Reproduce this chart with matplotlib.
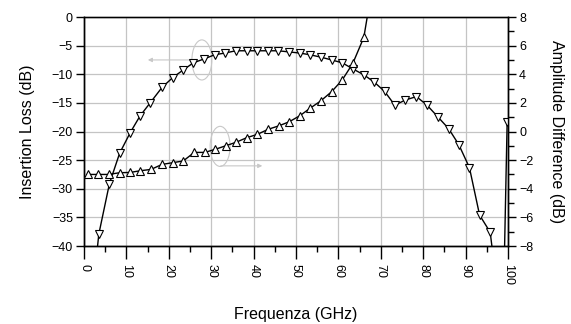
import matplotlib
matplotlib.use("Agg")
import matplotlib.pyplot as plt
from matplotlib.patches import Ellipse
from matplotlib.ticker import MultipleLocator

plt.rcParams['font.family'] = ['Liberation Sans', 'DejaVu Sans']

# Insertion loss (left axis, down triangles)
il_freq = [3.2, 3.5, 6.0, 8.4, 10.9, 13.2, 15.6, 18.4, 20.9, 23.4, 25.8, 28.4, 30.8, 33.2,
           35.8, 38.4, 40.9, 43.3, 45.8, 48.4, 50.9, 53.3, 55.8, 58.4, 60.9, 63.5,
           66.0, 68.5, 70.9, 73.3, 75.8, 78.4, 80.9, 83.4, 86.0, 88.4, 90.9, 93.3,
           95.8, 96.2]
il_db = [-40.0, -37.9, -29.1, -23.8, -20.2, -17.3, -15.0, -12.3, -10.6, -9.25, -8.0, -7.3,
         -6.6, -6.3, -5.9, -5.9, -5.9, -5.9, -5.9, -6.1, -6.3, -6.6, -7.0, -7.5, -8.0,
         -9.1, -10.1, -11.4, -13.0, -15.4, -14.5, -13.9, -15.4, -17.4, -19.5, -22.3,
         -26.3, -34.6, -37.6, -40.0]

# Stray segment at right edge
tail_freq = [99.8, 99.2]
tail_db = [-18.3, -40.0]

# Amplitude difference (right axis, up triangles)
amp_freq = [0.9, 3.4, 5.8, 8.4, 10.9, 13.3, 15.8, 18.4, 20.9, 23.4, 26.0, 28.5, 30.9,
            33.5, 35.8, 38.4, 40.9, 43.4, 46.0, 48.4, 50.9, 53.3, 55.8, 58.4, 60.9,
            63.4, 66.0, 66.8]
amp_db = [-3.0, -3.0, -3.0, -2.88, -2.86, -2.74, -2.65, -2.3, -2.18, -2.06, -1.46, -1.46,
          -1.25, -0.99, -0.76, -0.43, -0.2, 0.15, 0.40, 0.68, 1.1, 1.62, 2.13, 2.78,
          3.6, 4.76, 6.58, 8.0]

x_ticks = list(range(0, 101, 10))
left_ticks = list(range(0, -41, -5))
right_ticks = list(range(-8, 9, 2))

fig = plt.figure(figsize=(5.71, 3.24), dpi=100)
ax = fig.add_axes([84/571, 1 - 246/324, (508 - 84)/571, (246 - 17)/324])
ax2 = ax.twinx()

mk = dict(markersize=5.2, markerfacecolor='white', markeredgecolor='black',
          markeredgewidth=0.8, color='black', linewidth=1.0)

ax.plot(il_freq, il_db, marker='v', markevery=list(range(1, len(il_freq) - 1)), **mk,
        clip_on=True, zorder=3)
ax.plot(tail_freq, tail_db, marker='v', markevery=[0], **mk, zorder=3)
ax2.plot(amp_freq, amp_db, marker='^', markevery=list(range(0, len(amp_freq) - 1)), **mk,
         zorder=3)

ax.set_xlim(0, 100)
ax.set_ylim(-40, 0)
ax2.set_ylim(-8, 8)

ax.set_xticks(x_ticks)
ax.set_xticklabels([str(v) for v in x_ticks], rotation=-90)
ax.xaxis.set_minor_locator(MultipleLocator(5))
ax.set_yticks(left_ticks)
ax2.set_yticks(right_ticks)
ax2.yaxis.set_minor_locator(MultipleLocator(1))

ax.grid(True, which='major', color='#c4c4c4', linewidth=0.9)
ax.set_axisbelow(True)

for a in (ax, ax2):
    for s in a.spines.values():
        s.set_linewidth(1.0)
ax.spines['top'].set_color('#555555')

ax.tick_params(axis='both', which='major', direction='out', length=6, width=1,
               labelsize=9, pad=2)
ax.tick_params(axis='x', which='minor', direction='out', length=4, width=1)
ax.tick_params(axis='x', which='major', length=9, pad=4)
ax2.tick_params(axis='y', which='major', direction='out', length=6, width=1,
                labelsize=9, pad=2)
ax2.tick_params(axis='y', which='minor', direction='out', length=4, width=1)

ax.set_xlabel('Frequenza (GHz)', fontsize=11.5, labelpad=16)
ax.set_ylabel('Insertion Loss (dB)', fontsize=11.5, labelpad=12)
ax2.set_ylabel('Amplitude Difference (dB)', fontsize=11.5, rotation=-90, labelpad=22)

# faint annotations
ann_col = '#c8c8c8'
ax.add_patch(Ellipse((27.8, -7.5), 4.7, 7.0, fill=False, edgecolor=ann_col,
                     linewidth=0.8, zorder=2))
ax.add_patch(Ellipse((32.1, -22.6), 4.7, 7.0, fill=False, edgecolor=ann_col,
                     linewidth=0.8, zorder=2))
ax.annotate('', xy=(14.4, -7.5), xytext=(27.0, -7.5),
            arrowprops=dict(arrowstyle='-|>', color=ann_col, lw=0.8,
                            mutation_scale=6), zorder=2)
ax.annotate('', xy=(42.7, -26.0), xytext=(31.6, -26.0),
            arrowprops=dict(arrowstyle='-|>', color=ann_col, lw=0.8,
                            mutation_scale=6), zorder=2)

fig.savefig('out.png', dpi=100)
